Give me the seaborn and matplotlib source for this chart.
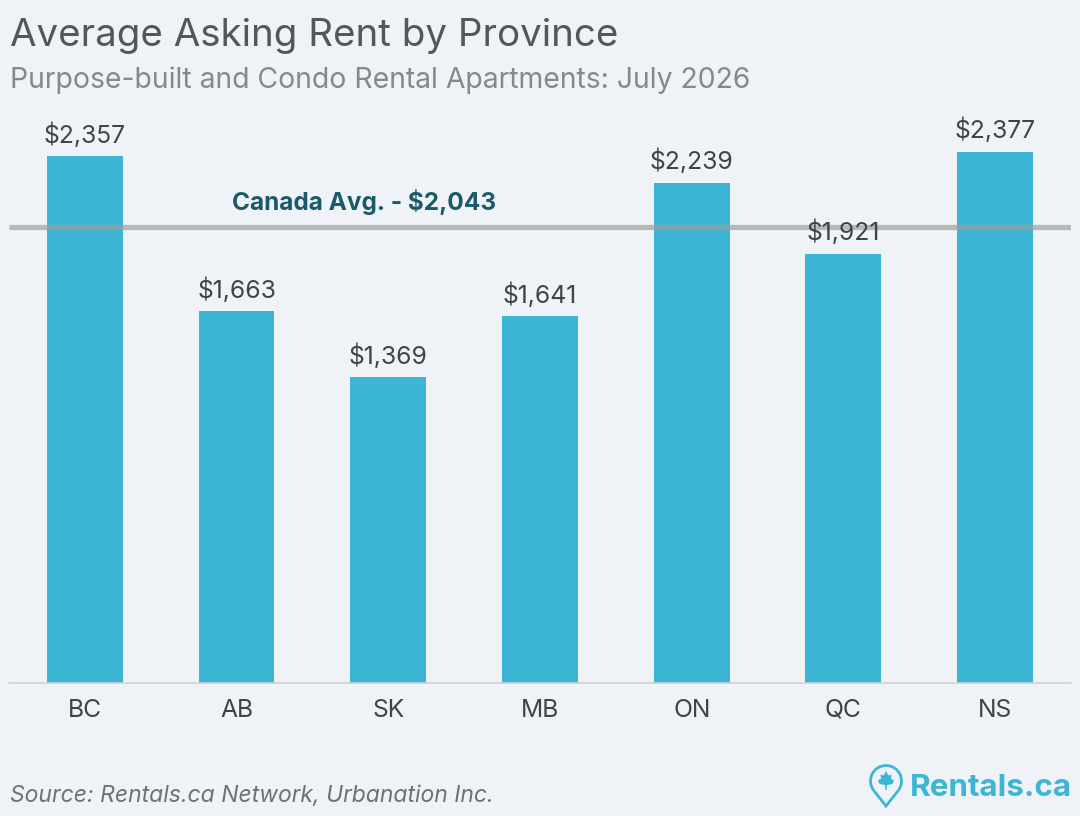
import matplotlib
matplotlib.use('Agg')
import matplotlib.pyplot as plt
import pandas as pd
import seaborn as sns
from matplotlib.patches import Arc, Polygon

# Values
provinces = ['BC', 'AB', 'SK', 'MB', 'ON', 'QC', 'NS']
rents = [2357, 1663, 1369, 1641, 2239, 1921, 2377]
canada_avg = 2043

bg = '#EFF3F8'
bar_color = '#3CB6D4'

sns.set_theme(style='white')
plt.rcParams['font.family'] = ['Inter', 'DejaVu Sans']

df = pd.DataFrame({'province': provinces, 'rent': rents})

fig = plt.figure(figsize=(10.8, 8.16), dpi=100, facecolor=bg)
ax = fig.add_axes([9 / 1080, 1 - 683 / 816, 1062 / 1080, (683 - 120) / 816], facecolor=bg)

sns.barplot(data=df, x='province', y='rent', color=bar_color, width=0.5, saturation=1,
            edgecolor='none', linewidth=0, ax=ax)
ax.set_xlim(-0.5, 6.5)
ax.set_ylim(0, 2520)
ax.set_xlabel('')
ax.set_ylabel('')
ax.set_yticks([])
ax.tick_params(axis='x', length=0, pad=11.3, labelsize=17.8, labelcolor='#404448')
sns.despine(ax=ax, left=True)
ax.spines['bottom'].set_color('#CDD2D6')
ax.spines['bottom'].set_linewidth(1.2)

for container in ax.containers:
    ax.bar_label(container, labels=[f'${v:,}' for v in rents], padding=6.2, fontsize=17.8, color='#404448')

# Canada average line, see-through over the bars and under the labels
ax.axhline(canada_avg, color='#A0A0A0', alpha=0.7, lw=3.8, solid_capstyle='butt', zorder=2.5)
ax.text(1.84, canada_avg + 50, f'Canada Avg. - ${canada_avg:,}', ha='center', va='bottom',
        fontsize=17.6, fontweight='bold', color='#1B5A68')

fig.text(10 / 1080, 1 - 46 / 816, 'Average Asking Rent by Province', fontsize=27.7, color='#53575A', va='baseline')
fig.text(10 / 1080, 1 - 88 / 816, 'Purpose-built and Condo Rental Apartments: July 2026', fontsize=20.42, color='#85898C', va='baseline')
fig.text(10 / 1080, 1 - 802 / 816, 'Source: Rentals.ca Network, Urbanation Inc.', fontsize=16.5, style='italic', color='#6E7275', va='baseline')

# Logo: pin and wordmark
fig.text(1072 / 1080, 1 - 796 / 816, 'Rentals.ca', fontsize=22.6, fontweight='bold', color=bar_color, ha='right', va='baseline')
logo = fig.add_axes([868 / 1080, 1 - 810 / 816, 36 / 1080, 48 / 816])
logo.set_xlim(0, 36)
logo.set_ylim(0, 48)
logo.axis('off')
logo.add_patch(Arc((18, 29), 31, 31, theta1=321.7, theta2=578.3, ec=bar_color, lw=2))
logo.add_patch(Polygon([[5.8, 19.4], [18, 4], [30.2, 19.4]], closed=False, fc='none', ec=bar_color, lw=2))
logo.add_patch(Polygon([[18, 39], [20.5, 34.5], [23.5, 35.5], [23, 31], [26, 30], [24.5, 26], [19, 25], [18.6, 20],
                        [17.4, 20], [17, 25], [11.5, 26], [10, 30], [13, 31], [12.5, 35.5], [15.5, 34.5]],
                       fc=bar_color, ec='none'))

fig.savefig('out.png', dpi=100, facecolor=bg)
